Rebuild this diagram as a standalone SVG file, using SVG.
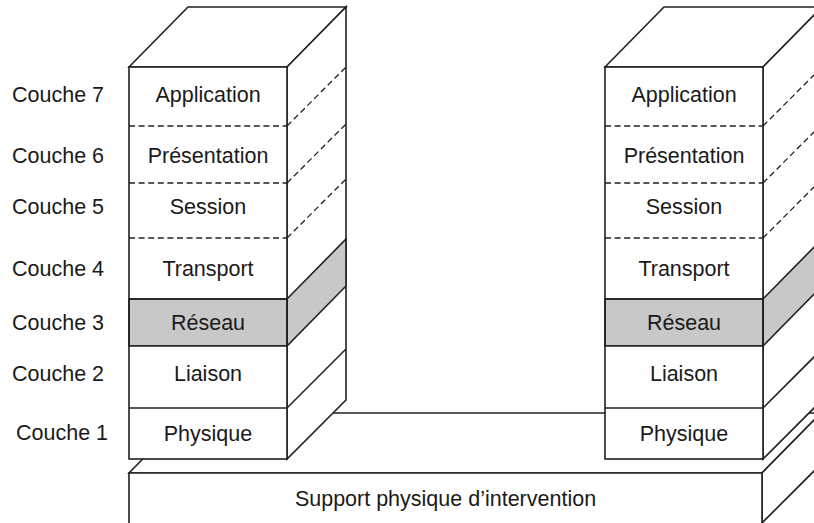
<svg xmlns="http://www.w3.org/2000/svg" width="814" height="523" viewBox="0 0 814 523">
<style>
  .ln{fill:#fff;stroke:#231f20;stroke-width:1.6;stroke-linejoin:miter}
  .gr{fill:#c8c8c9;stroke:#231f20;stroke-width:1.6}
  .ds{fill:none;stroke:#231f20;stroke-width:1.3;stroke-dasharray:6 3.6}
  .sl{fill:none;stroke:#231f20;stroke-width:1.6}
  text{font-family:"Liberation Sans",Arial,sans-serif;font-size:21.5px;fill:#1a1a1a}
  .c{text-anchor:middle}
</style>
<rect width="814" height="523" fill="#fff"/>

<g id="labels">
  <text x="12" y="102">Couche 7</text>
  <text x="12" y="163">Couche 6</text>
  <text x="12" y="214">Couche 5</text>
  <text x="12" y="276">Couche 4</text>
  <text x="12" y="330">Couche 3</text>
  <text x="12" y="381">Couche 2</text>
  <text x="16" y="440">Couche 1</text>
</g>

<g id="support">
  <polygon class="ln" points="129,473 188,413 821,413 762,473"/>
  <polygon class="ln" points="762,473 821,413 821,464 762,523"/>
  <path class="ln" d="M129,524 V473 H762 V524"/>
  <text class="c" x="445.5" y="506">Support physique d’intervention</text>
</g>

<g id="stack-left">
  <polygon class="ln" points="129,67 188,7 346,7 287,67"/>
  <polygon class="ln" points="287,67 346,7 346,400 287,459"/>
  <polygon class="gr" points="287,299 346,239 346,286 287,346"/>
  <line class="ds" x1="287" y1="126" x2="346" y2="67"/>
  <line class="ds" x1="287" y1="183" x2="346" y2="124"/>
  <line class="ds" x1="287" y1="238" x2="346" y2="179"/>
  <line class="sl" x1="287" y1="408" x2="346" y2="349"/>
  <g id="l-app"><rect x="129" y="67" width="158" height="59" fill="#fff"/><text class="c" x="208" y="102">Application</text></g>
  <g id="l-pres"><rect x="129" y="126" width="158" height="57" fill="#fff"/><text class="c" x="208" y="163">Présentation</text></g>
  <g id="l-sess"><rect x="129" y="183" width="158" height="55" fill="#fff"/><text class="c" x="208" y="214">Session</text></g>
  <g id="l-trans"><rect x="129" y="238" width="158" height="61" fill="#fff"/><text class="c" x="208" y="276">Transport</text></g>
  <g id="l-res"><rect class="gr" x="129" y="299" width="158" height="47"/><text class="c" x="208" y="330">Réseau</text></g>
  <g id="l-liai"><rect x="129" y="346" width="158" height="62" fill="#fff"/><text class="c" x="208" y="381">Liaison</text></g>
  <g id="l-phys"><rect x="129" y="408" width="158" height="51" fill="#fff"/><text class="c" x="208" y="441">Physique</text></g>
  <line class="ds" x1="129" y1="126" x2="287" y2="126"/>
  <line class="ds" x1="129" y1="183" x2="287" y2="183"/>
  <line class="ds" x1="129" y1="238" x2="287" y2="238"/>
  <line class="sl" x1="129" y1="299" x2="287" y2="299"/>
  <line class="sl" x1="129" y1="346" x2="287" y2="346"/>
  <line class="sl" x1="129" y1="408" x2="287" y2="408"/>
  <rect x="129" y="67" width="158" height="392" fill="none" stroke="#231f20" stroke-width="1.6"/>
</g>

<g id="stack-right" transform="translate(476,0)">
  <polygon class="ln" points="129,67 188,7 346,7 287,67"/>
  <polygon class="ln" points="287,67 346,7 346,400 287,459"/>
  <polygon class="gr" points="287,299 346,239 346,286 287,346"/>
  <line class="ds" x1="287" y1="126" x2="346" y2="67"/>
  <line class="ds" x1="287" y1="183" x2="346" y2="124"/>
  <line class="ds" x1="287" y1="238" x2="346" y2="179"/>
  <line class="sl" x1="287" y1="408" x2="346" y2="349"/>
  <g id="r-app"><rect x="129" y="67" width="158" height="59" fill="#fff"/><text class="c" x="208" y="102">Application</text></g>
  <g id="r-pres"><rect x="129" y="126" width="158" height="57" fill="#fff"/><text class="c" x="208" y="163">Présentation</text></g>
  <g id="r-sess"><rect x="129" y="183" width="158" height="55" fill="#fff"/><text class="c" x="208" y="214">Session</text></g>
  <g id="r-trans"><rect x="129" y="238" width="158" height="61" fill="#fff"/><text class="c" x="208" y="276">Transport</text></g>
  <g id="r-res"><rect class="gr" x="129" y="299" width="158" height="47"/><text class="c" x="208" y="330">Réseau</text></g>
  <g id="r-liai"><rect x="129" y="346" width="158" height="62" fill="#fff"/><text class="c" x="208" y="381">Liaison</text></g>
  <g id="r-phys"><rect x="129" y="408" width="158" height="51" fill="#fff"/><text class="c" x="208" y="441">Physique</text></g>
  <line class="ds" x1="129" y1="126" x2="287" y2="126"/>
  <line class="ds" x1="129" y1="183" x2="287" y2="183"/>
  <line class="ds" x1="129" y1="238" x2="287" y2="238"/>
  <line class="sl" x1="129" y1="299" x2="287" y2="299"/>
  <line class="sl" x1="129" y1="346" x2="287" y2="346"/>
  <line class="sl" x1="129" y1="408" x2="287" y2="408"/>
  <rect x="129" y="67" width="158" height="392" fill="none" stroke="#231f20" stroke-width="1.6"/>
</g>
</svg>
